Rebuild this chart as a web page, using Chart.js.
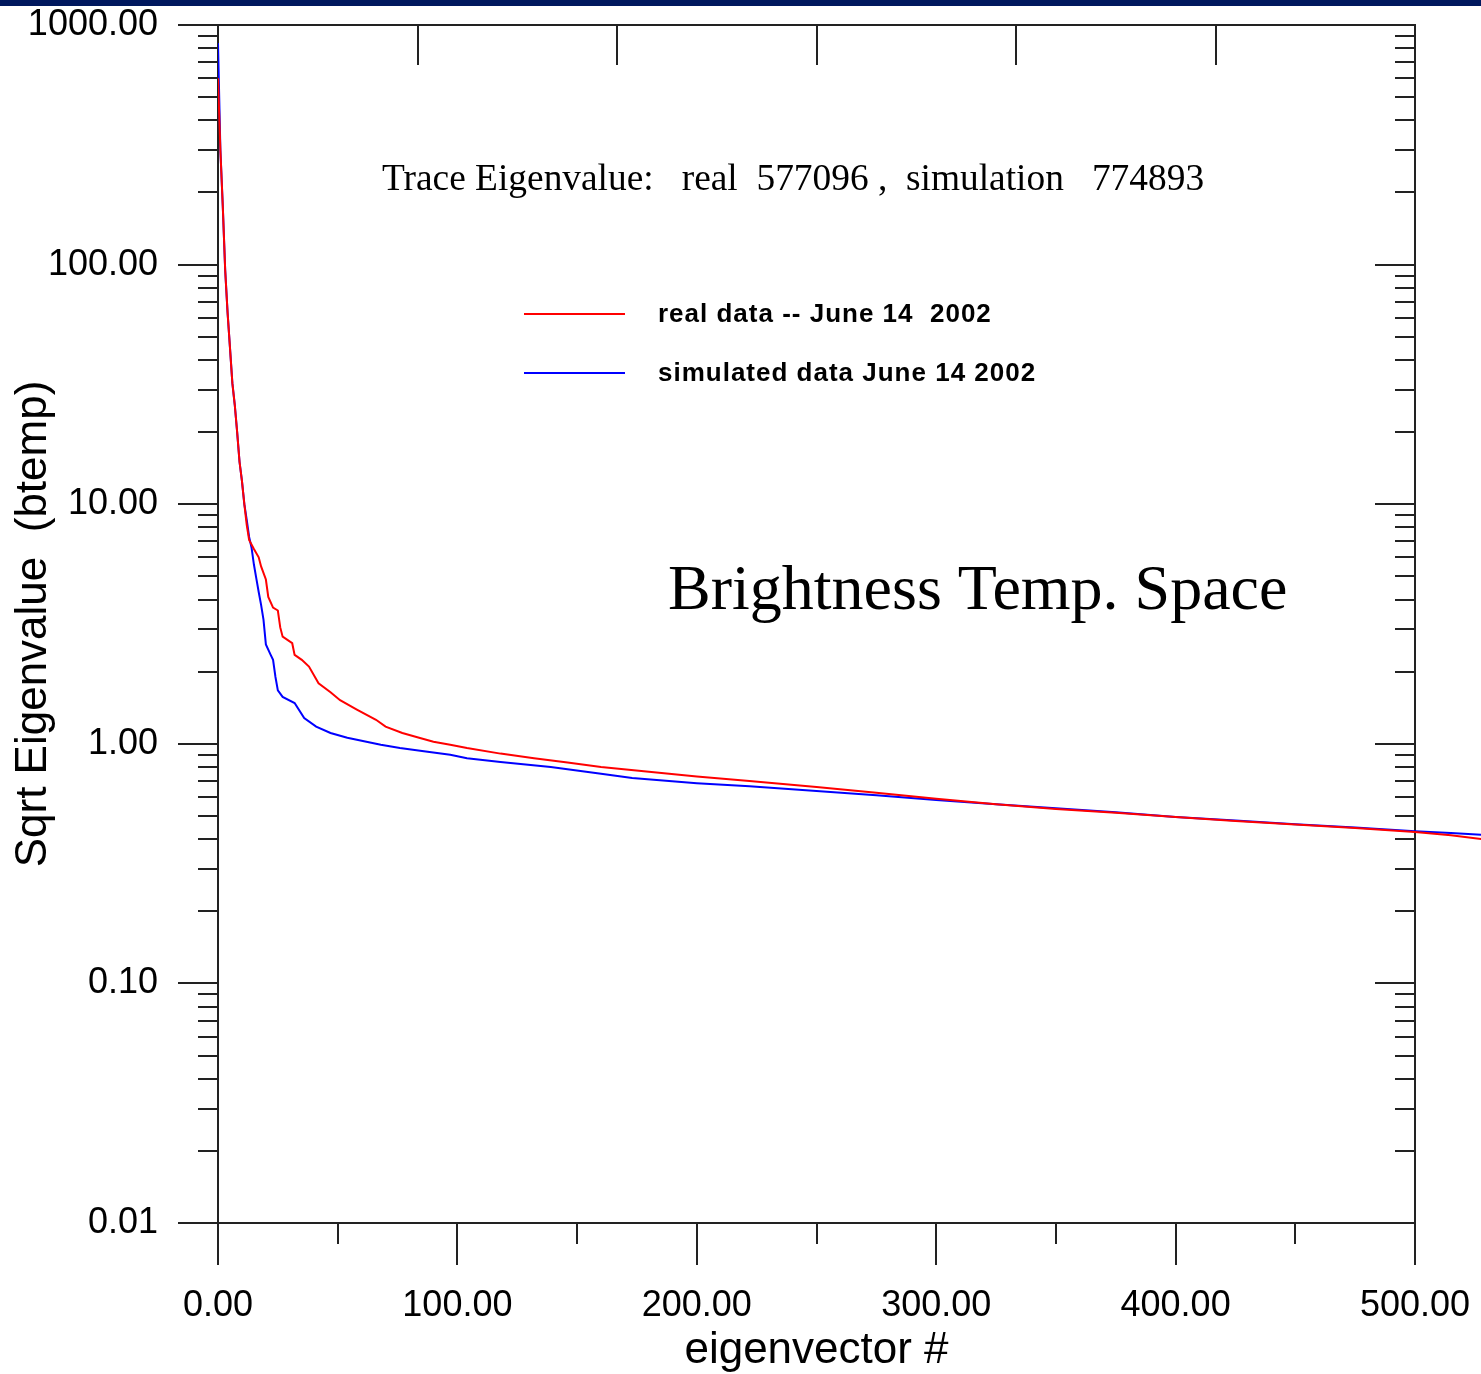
<!DOCTYPE html>
<html>
<head>
<meta charset="utf-8">
<script src="https://cdn.jsdelivr.net/npm/chart.js@4.4.1/dist/chart.umd.min.js"></script>
<style>
  html, body { margin: 0; padding: 0; background: #fff; }
  #wrap { position: relative; width: 1481px; height: 1374px; }
</style>
</head>
<body>
<div id="wrap"><canvas id="eigen-chart"></canvas></div>
<script>
// eigenvector index and sqrt eigenvalue, real data (red)
const realIndex = [0, 1, 2, 3, 4, 5, 6, 7, 8, 9, 10, 11, 12, 13,
  15, 17, 18, 20, 21, 23, 25, 26, 27, 31, 32, 35, 38, 42, 47, 51, 58, 66, 70, 77,
  84, 90, 97, 104, 118, 132, 146, 160, 180, 200, 222, 250, 275, 300, 325, 350,
  375, 400, 425, 450, 475, 500, 515, 528];
const realSqrtEig = [600, 300, 175, 95, 63, 45, 32, 26, 20, 15, 12.5, 10, 8.2, 7.1,
  6.5, 6.0, 5.5, 4.85, 4.1, 3.7, 3.6, 3.06, 2.8, 2.63, 2.35, 2.24, 2.10, 1.79, 1.64, 1.52, 1.39, 1.26, 1.18, 1.11,
  1.06, 1.02, 0.99, 0.96, 0.91, 0.87, 0.835, 0.80, 0.765, 0.73, 0.70, 0.66, 0.625, 0.59, 0.56, 0.535,
  0.515, 0.495, 0.476, 0.46, 0.445, 0.428, 0.415, 0.40];

// simulated data (blue)
const simIndex = [0, 1, 2, 3, 4, 5, 6, 7, 8, 9, 10, 11, 12, 13, 14, 15, 16, 17, 18, 19, 20,
  22, 23, 24, 25, 27, 32, 36, 41, 47, 54, 68, 76, 86, 97, 104, 118, 139, 160, 173, 200,
  222, 250, 275, 300, 325, 350, 375, 400, 425, 450, 475, 500, 515, 528];
const simSqrtEig = [840, 300, 175, 95, 63, 45, 32, 26, 20, 15, 12.5, 10, 8.6, 7.3, 6.6, 5.6, 4.9, 4.3, 3.8, 3.3, 2.6,
  2.35, 2.24, 1.9, 1.67, 1.57, 1.48, 1.28, 1.18, 1.11, 1.06, 0.99, 0.96, 0.93, 0.90, 0.87, 0.84, 0.80, 0.75, 0.72, 0.685,
  0.665, 0.635, 0.61, 0.583, 0.56, 0.538, 0.518, 0.495, 0.478, 0.462, 0.447, 0.432, 0.424, 0.417];

const seriesLabels = ["real data -- June 14  2002", "simulated data June 14 2002"];

// axis ticks
const yTickValues = [0.01, 0.1, 1, 10, 100, 1000];
const xTickValues = [0, 100, 200, 300, 400, 500];
const xMinorTicks = [50, 150, 250, 350, 450];
const xTopTicks = [500 / 6, 1000 / 6, 250, 2000 / 6, 2500 / 6];

const traceText = "Trace Eigenvalue:   real  577096 ,  simulation   774893";
const spaceText = "Brightness Temp. Space";

const SANS = "'Liberation Sans', Arial, sans-serif";
const SERIF = "'Liberation Serif', 'Times New Roman', serif";

function toPoints(xs, ys) {
  return xs.map((x, i) => ({ x: x, y: ys[i] }));
}

function seg(ctx, x1, y1, x2, y2) {
  ctx.beginPath();
  ctx.moveTo(x1, y1);
  ctx.lineTo(x2, y2);
  ctx.stroke();
}

// no extra label padding, the plot box is fixed by layout.padding
function noPad(s) {
  s.paddingTop = 0;
  s.paddingBottom = 0;
  s.paddingLeft = 0;
  s.paddingRight = 0;
}

const framePlugin = {
  id: "frame",
  beforeDraw(chart) {
    const ctx = chart.ctx;
    ctx.save();
    ctx.fillStyle = "rgb(0, 24, 94)";
    ctx.fillRect(0, 0, chart.width, 6);
    ctx.restore();
  },
  beforeDatasetsDraw(chart) {
    const { ctx, chartArea: a, scales: { x, y } } = chart;
    ctx.save();
    ctx.strokeStyle = "#222";
    ctx.lineWidth = 2;
    ctx.strokeRect(a.left, a.top, a.right - a.left, a.bottom - a.top);
    // y ticks, left side outward and right side inward
    yTickValues.forEach(v => {
      const py = Math.round(y.getPixelForValue(v));
      seg(ctx, a.left - 40, py, a.left, py);
      seg(ctx, a.right - 40, py, a.right, py);
    });
    yTickValues.slice(0, -1).forEach(d => {
      for (let m = 2; m <= 9; m++) {
        const py = Math.round(y.getPixelForValue(d * m));
        seg(ctx, a.left - 20, py, a.left, py);
        seg(ctx, a.right - 20, py, a.right, py);
      }
    });
    // x ticks
    xTickValues.forEach(v => {
      const px = Math.round(x.getPixelForValue(v));
      seg(ctx, px, a.bottom, px, a.bottom + 42);
    });
    xMinorTicks.forEach(v => {
      const px = Math.round(x.getPixelForValue(v));
      seg(ctx, px, a.bottom, px, a.bottom + 21);
    });
    xTopTicks.forEach(v => {
      const px = Math.round(x.getPixelForValue(v));
      seg(ctx, px, a.top, px, a.top + 40);
    });
    ctx.restore();
  },
  afterDraw(chart) {
    const ctx = chart.ctx;
    ctx.save();
    ctx.fillStyle = "#000";
    ctx.textBaseline = "alphabetic";
    ctx.textAlign = "left";
    ctx.font = "37.4px " + SERIF;
    ctx.fillText(traceText, 382, 190);
    ctx.font = "64px " + SERIF;
    ctx.fillText(spaceText, 668, 609);

    // legend
    const rows = [314, 373];
    ctx.font = "bold 26px " + SANS;
    ctx.letterSpacing = "1px";
    ctx.textBaseline = "middle";
    chart.data.datasets.forEach((ds, i) => {
      ctx.strokeStyle = ds.borderColor;
      ctx.lineWidth = 2;
      seg(ctx, 524, rows[i], 625, rows[i]);
      ctx.fillText(ds.label, 658, rows[i] + 1);
    });
    ctx.restore();
  }
};

const data_eigen = {
  datasets: [
    {
      label: seriesLabels[0],
      data: toPoints(realIndex, realSqrtEig),
      borderColor: "rgb(255, 0, 0)",
      backgroundColor: "rgb(255, 0, 0)",
      borderWidth: 2,
      pointRadius: 0,
      clip: { left: 0, top: 0, right: 80, bottom: 0 },
    },
    {
      label: seriesLabels[1],
      data: toPoints(simIndex, simSqrtEig),
      borderColor: "rgb(0, 0, 255)",
      backgroundColor: "rgb(0, 0, 255)",
      borderWidth: 2,
      pointRadius: 0,
      clip: { left: 0, top: 0, right: 80, bottom: 0 },
    },
  ],
};

const config_eigen = {
  type: "line",
  data: data_eigen,
  plugins: [framePlugin],
  options: {
    responsive: true,
    maintainAspectRatio: false,
    animation: false,
    layout: { padding: { top: 25, right: 66, left: 0, bottom: 0 } },
    plugins: {
      legend: { display: false },
      tooltip: { enabled: false },
    },
    scales: {
      x: {
        type: "linear",
        position: "bottom",
        afterDataLimits: s => { s.min = 0; s.max = 500; },
        afterBuildTicks: s => { s.ticks = xTickValues.map(v => ({ value: v })); },
        afterFit: s => { s.height = 151; noPad(s); },
        grid: { display: false },
        border: { display: false },
        ticks: {
          callback: v => Number(v).toFixed(2),
          font: { family: SANS, size: 36 },
          color: "#000",
          padding: 53,
          maxRotation: 0,
          autoSkip: false,
        },
        title: {
          display: true,
          text: "eigenvector #",
          color: "#000",
          font: { family: SANS, size: 44, lineHeight: 1 },
          padding: { top: 0, bottom: 1 },
        },
      },
      y: {
        type: "logarithmic",
        min: 0.01,
        max: 1000,
        afterBuildTicks: s => { s.ticks = yTickValues.map(v => ({ value: v })); },
        afterFit: s => { s.width = 218; noPad(s); },
        grid: { display: false },
        border: { display: false },
        ticks: {
          callback: v => Number(v).toFixed(2),
          font: { family: SANS, size: 36 },
          color: "#000",
          padding: 52,
          autoSkip: false,
        },
        title: {
          display: true,
          text: "Sqrt Eigenvalue  (btemp)",
          color: "#000",
          font: { family: SANS, size: 44, lineHeight: 1 },
          padding: { top: 12, bottom: 0 },
        },
      },
    },
  },
};

var ctx_eigen = document.getElementById("eigen-chart").getContext("2d");
var eigenChart = new Chart(ctx_eigen, config_eigen);
</script>
</body>
</html>
